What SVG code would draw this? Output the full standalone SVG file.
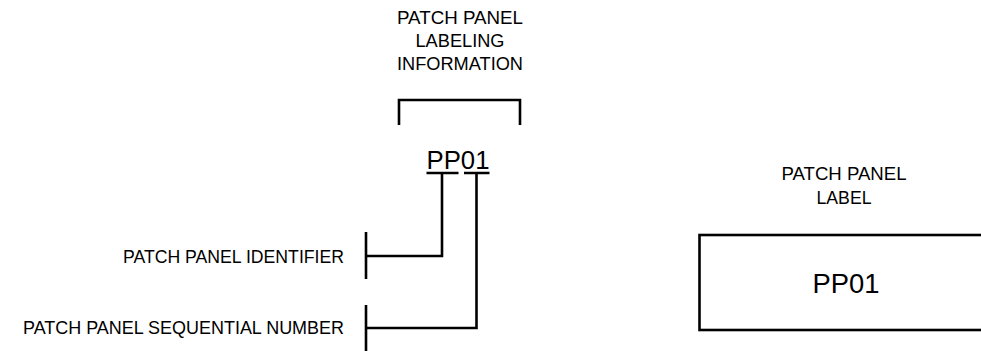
<svg xmlns="http://www.w3.org/2000/svg" width="981" height="351" viewBox="0 0 981 351">
<style>
text{font-family:"Liberation Sans",Arial,sans-serif;fill:#000}
.s{font-size:17.5px}
.t{font-size:18px;text-anchor:middle}
.b{font-size:26px;text-anchor:middle}
.ln{fill:none;stroke:#000;stroke-width:2.6;stroke-linecap:butt}
</style>
<rect width="981" height="351" fill="#fff"/>
<g id="title">
<text class="t" x="460" y="24" textLength="126" lengthAdjust="spacingAndGlyphs">PATCH PANEL</text>
<text class="t" x="460" y="47" textLength="89" lengthAdjust="spacingAndGlyphs">LABELING</text>
<text class="t" x="460" y="70" textLength="126" lengthAdjust="spacingAndGlyphs">INFORMATION</text>
<path class="ln" d="M399,125 V100 H520 V125"/>
</g>
<g id="code">
<text class="b" x="458" y="169" textLength="63" lengthAdjust="spacingAndGlyphs">PP01</text>
</g>
<g id="identifier">
<text class="s" x="123" y="263" textLength="221" lengthAdjust="spacingAndGlyphs">PATCH PANEL IDENTIFIER</text>
<path class="ln" d="M366,232 V279"/>
</g>
<g id="sequential">
<text class="s" x="23" y="334" textLength="321" lengthAdjust="spacingAndGlyphs">PATCH PANEL SEQUENTIAL NUMBER</text>
<path class="ln" d="M366,305 V351"/>
</g>
<g id="label">
<text class="t" x="844" y="180" textLength="125" lengthAdjust="spacingAndGlyphs">PATCH PANEL</text>
<text class="t" x="844" y="204" textLength="55" lengthAdjust="spacingAndGlyphs">LABEL</text>
<rect class="ln" x="699.5" y="235" width="400" height="95"/>
<text class="b" x="846" y="293" style="font-size:27.5px" textLength="67" lengthAdjust="spacingAndGlyphs">PP01</text>
</g>
<g id="connectors">
<path class="ln" d="M426.5,173 H458.5 M464,173 H489.5"/>
<path class="ln" d="M442,173 V256 H366"/>
<path class="ln" d="M476.5,173 V328 H366"/>
</g>
</svg>
